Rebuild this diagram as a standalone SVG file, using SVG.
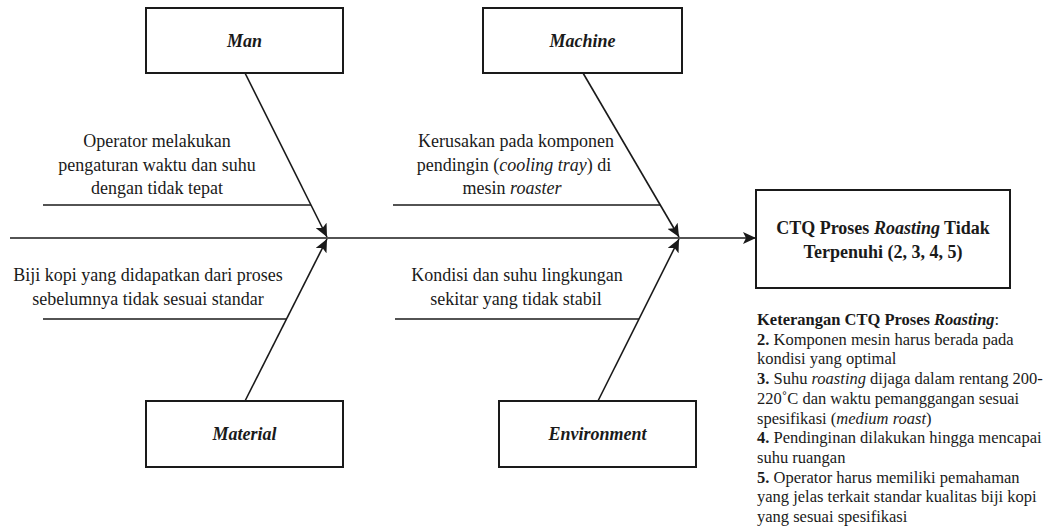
<svg xmlns="http://www.w3.org/2000/svg" width="1046" height="528" viewBox="0 0 1046 528">
<style>
  .box { fill: #ffffff; stroke: #1a1a1a; stroke-width: 2; }
  .ln { stroke: #1a1a1a; stroke-width: 1.6; fill: none; }
  .arr { marker-end: url(#ah); }
  text { font-family: "Liberation Serif", "Times New Roman", serif; fill: #1a1a1a; }
  .cat { font-size: 18px; font-weight: bold; font-style: italic; text-anchor: middle; }
  .cause { font-size: 18px; text-anchor: middle; }
  .ctq { font-size: 18px; font-weight: bold; text-anchor: middle; }
  .leg { font-size: 16.5px; }
  .b { font-weight: bold; }
  .i { font-style: italic; }
</style>
<defs>
  <marker id="ah" markerUnits="userSpaceOnUse" markerWidth="14" markerHeight="12" refX="13" refY="6" orient="auto">
    <path d="M0,0 L13,6 L0,12 L3,6 z" fill="#1a1a1a"/>
  </marker>
</defs>

<g id="connectors">
  <line class="ln arr" x1="10" y1="238" x2="756" y2="238"/>
  <line class="ln arr" x1="245" y1="73" x2="327" y2="237"/>
  <line class="ln arr" x1="245" y1="401" x2="327" y2="239"/>
  <line class="ln arr" x1="583" y1="73" x2="679" y2="237"/>
  <line class="ln arr" x1="598" y1="401" x2="679" y2="239"/>
  <line class="ln" x1="43" y1="205" x2="311" y2="205"/>
  <line class="ln" x1="43" y1="319" x2="287" y2="319"/>
  <line class="ln" x1="393" y1="205" x2="660" y2="205"/>
  <line class="ln" x1="395" y1="319" x2="639" y2="319"/>
</g>

<g id="man">
  <rect class="box" x="146" y="8" width="197" height="65"/>
  <text class="cat" x="244.5" y="47">Man</text>
</g>
<g id="machine">
  <rect class="box" x="483" y="8" width="199" height="65"/>
  <text class="cat" x="582.5" y="47">Machine</text>
</g>
<g id="material">
  <rect class="box" x="146" y="401" width="197" height="66"/>
  <text class="cat" x="244.5" y="440">Material</text>
</g>
<g id="environment">
  <rect class="box" x="499" y="401" width="197" height="66"/>
  <text class="cat" x="597.5" y="440">Environment</text>
</g>
<g id="ctq">
  <rect class="box" x="756" y="190" width="254" height="98"/>
  <text class="ctq" x="883" y="234">CTQ Proses <tspan class="i">Roasting</tspan> Tidak</text>
  <text class="ctq" x="883" y="258">Terpenuhi (2, 3, 4, 5)</text>
</g>

<g id="cause-man">
  <text class="cause" x="157" y="147">Operator melakukan</text>
  <text class="cause" x="157" y="170.5">pengaturan waktu dan suhu</text>
  <text class="cause" x="157" y="194">dengan tidak tepat</text>
</g>
<g id="cause-material">
  <text class="cause" x="148" y="281">Biji kopi yang didapatkan dari proses</text>
  <text class="cause" x="148" y="305">sebelumnya tidak sesuai standar</text>
</g>
<g id="cause-machine">
  <text class="cause" x="516" y="147">Kerusakan pada komponen</text>
  <text class="cause" x="514" y="170.5">pendingin (<tspan class="i">cooling tray</tspan>) di</text>
  <text class="cause" x="512" y="194">mesin <tspan class="i">roaster</tspan></text>
</g>
<g id="cause-environment">
  <text class="cause" x="517" y="281">Kondisi dan suhu lingkungan</text>
  <text class="cause" x="516" y="305">sekitar yang tidak stabil</text>
</g>

<g id="legend">
  <text class="leg" x="757" y="325"><tspan class="b">Keterangan CTQ Proses </tspan><tspan class="b i">Roasting</tspan>:</text>
  <text class="leg" x="757" y="344.7"><tspan class="b">2.</tspan> Komponen mesin harus berada pada</text>
  <text class="leg" x="757" y="364.4">kondisi yang optimal</text>
  <text class="leg" x="757" y="384.1"><tspan class="b">3.</tspan> Suhu <tspan class="i">roasting</tspan> dijaga dalam rentang 200-</text>
  <text class="leg" x="757" y="403.8">220˚C dan waktu pemanggangan sesuai</text>
  <text class="leg" x="757" y="423.5">spesifikasi (<tspan class="i">medium roast</tspan>)</text>
  <text class="leg" x="757" y="443.2"><tspan class="b">4.</tspan> Pendinginan dilakukan hingga mencapai</text>
  <text class="leg" x="757" y="462.9">suhu ruangan</text>
  <text class="leg" x="757" y="482.6"><tspan class="b">5.</tspan> Operator harus memiliki pemahaman</text>
  <text class="leg" x="757" y="502.3">yang jelas terkait standar kualitas biji kopi</text>
  <text class="leg" x="757" y="522">yang sesuai spesifikasi</text>
</g>
</svg>
